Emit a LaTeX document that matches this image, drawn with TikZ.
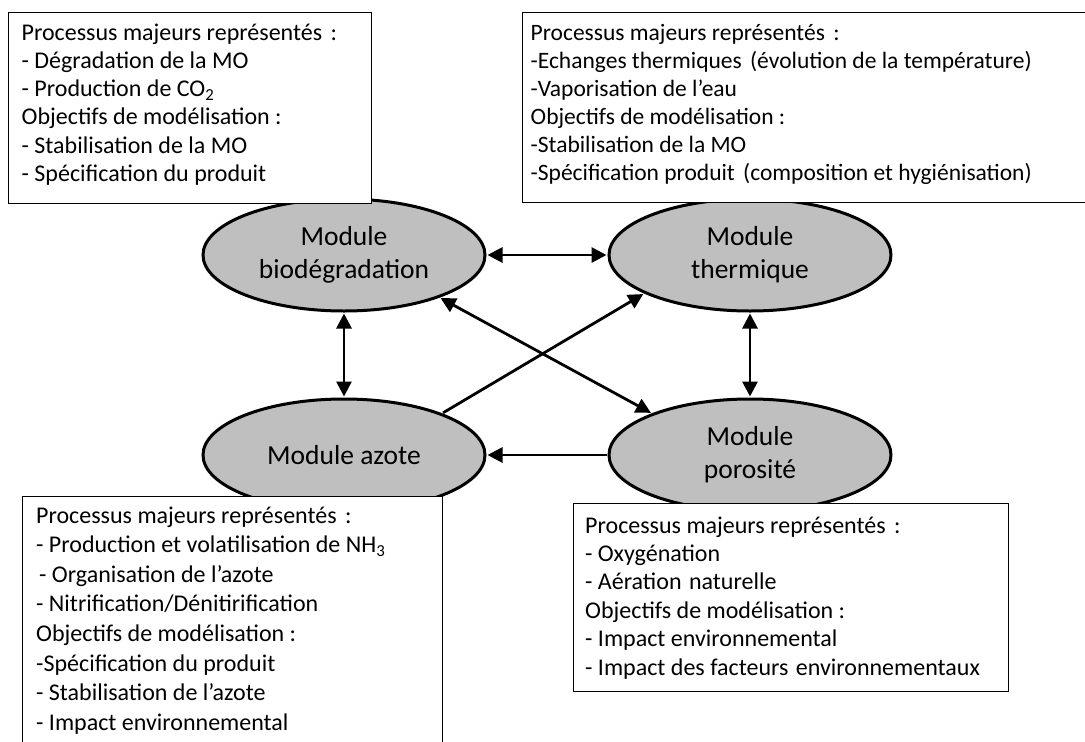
\documentclass[tikz,border=0pt]{standalone}
\usepackage{fontspec}
\setmainfont{Carlito}
\usetikzlibrary{arrows.meta,shapes.geometric}
\definecolor{modfill}{HTML}{BFBFBF}
\begin{document}
\begin{tikzpicture}[x=1pt,y=-1pt,
  module/.style={ellipse, draw=black, line width=3pt, fill=modfill,
    minimum width=282pt, minimum height=112pt, inner sep=0pt, align=center,
    font=\fontsize{27.5}{33}\selectfont},
  infobox/.style={draw=black, line width=1pt, fill=white, inner sep=0pt, anchor=north west},
  infotext/.style={anchor=base west, inner sep=0pt},
  tip/.tip={Triangle[length=15pt,width=15pt]},
  link/.style={line width=2.8pt, -tip, shorten >=1pt, shorten <=1pt},
  dlink/.style={link, tip-tip}
]
\useasboundingbox (0,0) rectangle (1085,742);
\clip (0,0) rectangle (1085,742);

% the four modules
\node[module] (bio)   at (344,255) {Module\\biodégradation};
\node[module] (therm) at (750,255) {Module\\thermique};
\node[module] (azote) at (344,455) {Module azote};
\node[module] (poro)  at (750,455) {Module\\porosité};

% couplings between modules
\draw[dlink] (bio.east) -- (therm.west);
\draw[dlink] (bio.south) -- (azote.north);
\draw[dlink] (therm.south) -- (poro.north);
\draw[dlink] (bio.-24) -- (poro.157);
\draw[link] (azote.23) -- (therm.200);
\draw[link] (poro.west) -- (azote.east);

% description boxes
\node[infobox, minimum width=363pt, minimum height=191pt] (tlbox) at (8,12) {};
\node[infotext, font=\fontsize{24}{28.3}\selectfont] (tltext) at (21.5,40) {%
  \begin{tabular}[t]{@{}l@{}}
  Processus majeurs représentés\hspace{3pt} :\\
  - Dégradation de la MO\\
  - Production de CO\textsubscript{2}\\
  Objectifs de modélisation :\\
  - Stabilisation de la MO\\
  - Spécification du produit
  \end{tabular}};

\node[infobox, minimum width=570pt, minimum height=190pt] (trbox) at (522,12) {};
\node[infotext, font=\fontsize{23.5}{28.1}\selectfont] (trtext) at (530.5,40) {%
  \begin{tabular}[t]{@{}l@{}}
  Processus majeurs représentés\hspace{3pt} :\\
  -Echanges thermiques\hspace{3pt} (évolution de la température)\\
  -Vaporisation de l’eau\\
  Objectifs de modélisation :\\
  -Stabilisation de la MO\\
  -Spécification produit\hspace{3pt} (composition et hygiénisation)
  \end{tabular}};

\node[infobox, minimum width=420pt, minimum height=270pt] (blbox) at (22,496) {};
\node[infotext, font=\fontsize{24}{29.6}\selectfont] (bltext) at (36,523) {%
  \begin{tabular}[t]{@{}l@{}}
  Processus majeurs représentés\hspace{3pt} :\\
  - Production et volatilisation de NH\textsubscript{3}\\
  \hspace{3pt}- Organisation de l’azote\\
  - Nitrification/Dénitirification\\
  Objectifs de modélisation :\\
  -Spécification du produit\\
  - Stabilisation de l’azote\\
  - Impact environnemental
  \end{tabular}};

\node[infobox, minimum width=435pt, minimum height=188pt] (brbox) at (573,503) {};
\node[infotext, font=\fontsize{24}{28.4}\selectfont] (brtext) at (585,533) {%
  \begin{tabular}[t]{@{}l@{}}
  Processus majeurs représentés\hspace{3pt} :\\
  - Oxygénation\\
  - Aération\hspace{2pt} naturelle\\
  Objectifs de modélisation :\\
  - Impact environnemental\\
  - Impact des facteurs\hspace{2pt} environnementaux
  \end{tabular}};
\end{tikzpicture}
\end{document}
